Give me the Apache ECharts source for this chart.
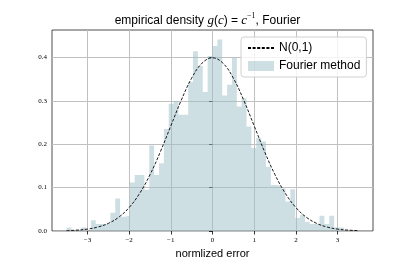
<!DOCTYPE html>
<html><head><meta charset="utf-8">
<script src="https://cdn.jsdelivr.net/npm/echarts@6/dist/echarts.min.js"></script>
<style>html,body{margin:0;padding:0;background:#fff}#c{width:415px;height:260px}</style>
</head><body><div id="c"></div>
<script>
// histogram: 60 bins from binLo to binHi (density values)
const binLo = -3.5, binHi = 3.5;
const density = [
  0.008, 0.000, 0.000, 0.008, 0.000, 0.025, 0.016, 0.016, 0.016, 0.042,
  0.075, 0.033, 0.035, 0.112, 0.129, 0.129, 0.095, 0.197, 0.129, 0.156,
  0.235, 0.293, 0.299, 0.268, 0.268, 0.343, 0.414, 0.380, 0.320, 0.403,
  0.426, 0.441, 0.312, 0.337, 0.399, 0.287, 0.306, 0.241, 0.191, 0.214,
  0.206, 0.148, 0.106, 0.104, 0.098, 0.068, 0.096, 0.030, 0.037, 0.021,
  0.016, 0.016, 0.035, 0.016, 0.035, 0.008, 0.008, 0.000, 0.000, 0.000
];
// N(0,1) reference curve
const normalX = [-3.5,-3.25,-3,-2.75,-2.5,-2.25,-2,-1.75,-1.5,-1.25,-1,-0.75,-0.5,-0.25,0,
  0.25,0.5,0.75,1,1.25,1.5,1.75,2,2.25,2.5,2.75,3,3.25,3.5];
const normalY = [0.0009,0.0020,0.0044,0.0091,0.0175,0.0317,0.0540,0.0863,0.1295,0.1826,0.2420,0.3011,0.3521,0.3867,0.3989,
  0.3867,0.3521,0.3011,0.2420,0.1826,0.1295,0.0863,0.0540,0.0317,0.0175,0.0091,0.0044,0.0020,0.0009];
const xTicks = [-3,-2,-1,0,1,2,3];
const yTicks = [0,0.1,0.2,0.3,0.4];
const seriesNames = ['N(0,1)', 'Fourier method'];

const barColor = 'rgba(157,191,201,0.5)';
const w = (binHi - binLo) / density.length;
const histPts = density.map((d,i)=>[binLo + i*w, d]);
histPts.push([binHi, density[density.length-1]]);

const chart = echarts.init(document.getElementById('c'), null, {renderer:'canvas'});
const tickFont = {fontFamily:'Liberation Serif', fontSize:7, color:'#000'};
chart.setOption({
  animation:false,
  title:{
    text:'{a|empirical density }{i|g}{a|(}{i|c}{a|) = }{i|c}{s|−1}{a|, Fourier}',
    left:'center', top:7,
    textStyle:{fontWeight:'normal', rich:{
      a:{fontFamily:'Liberation Sans', fontWeight:'normal', fontSize:12, color:'#000', lineHeight:15, verticalAlign:'bottom'},
      i:{fontFamily:'Liberation Serif', fontWeight:'normal', fontStyle:'italic', fontSize:13, color:'#000', lineHeight:15, verticalAlign:'bottom'},
      s:{fontFamily:'Liberation Serif', fontWeight:'normal', fontSize:8, color:'#000', lineHeight:8, verticalAlign:'top'}
    }}
  },
  grid:{left:52, top:30, width:321, height:201, outerBoundsMode:'none', containLabel:false,
        show:true, borderColor:'#222', borderWidth:0.8, backgroundColor:'transparent'},
  legend:{
    left:241, top:37, orient:'vertical',
    backgroundColor:'rgba(255,255,255,0.8)', borderColor:'#d0d0d0', borderWidth:1, borderRadius:3,
    padding:[5,6,5,6], itemGap:6, itemWidth:26, itemHeight:10,
    textStyle:{fontFamily:'Liberation Sans', fontSize:12, color:'#000', lineHeight:12},
    data:[
      {name:seriesNames[0], itemStyle:{color:'rgba(0,0,0,0)', borderWidth:0, opacity:0}},
      {name:seriesNames[1], icon:'rect', itemStyle:{color:barColor}}
    ]
  },
  xAxis:{
    type:'value', min:-3.85, max:3.85,
    name:'normlized error', nameLocation:'middle', nameGap:13,
    nameTextStyle:{fontFamily:'Liberation Sans', fontSize:11, color:'#000'},
    axisLine:{show:false},
    axisTick:{show:true, customValues:xTicks, length:3.5, lineStyle:{color:'#000', width:0.8}},
    axisLabel:{customValues:xTicks, margin:6, ...tickFont, formatter:v=>String(v).replace('-','−')},
    splitLine:{show:true, lineStyle:{color:'#c0c0c0', width:1}}
  },
  yAxis:{
    type:'value', min:0, max:0.463,
    axisLine:{show:false},
    axisTick:{show:true, customValues:yTicks, length:3.5, lineStyle:{color:'#000', width:0.8}},
    axisLabel:{customValues:yTicks, margin:5, ...tickFont, formatter:v=>v.toFixed(1)},
    splitLine:{show:true, lineStyle:{color:'#c0c0c0', width:1}}
  },
  series:[
    {
      name:seriesNames[1], type:'line', step:'end', symbol:'none', z:2,
      data:histPts, color:barColor,
      lineStyle:{width:0, opacity:0},
      areaStyle:{color:barColor, opacity:1}
    },
    {
      name:seriesNames[0], type:'line', symbol:'none', smooth:0.4, z:3,
      data:normalX.map((x,i)=>[x, normalY[i]]),
      color:'#000',
      lineStyle:{color:'#000', width:0.9, type:[3,1.6]}
    }
  ]
});
</script></body></html>
